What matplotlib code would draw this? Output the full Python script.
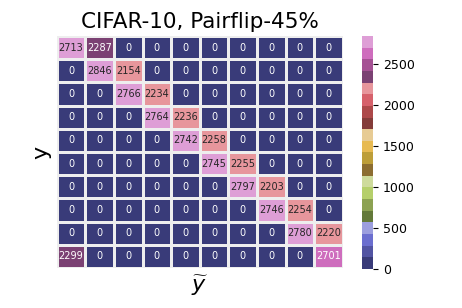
import matplotlib
matplotlib.use("Agg")
import matplotlib.pyplot as plt
import seaborn as sns
import numpy as np

# confusion counts: rows = true label y, cols = noisy label y~
diag_vals = [2713, 2846, 2766, 2764, 2742, 2745, 2797, 2746, 2780, 2701]
flip_vals = [2287, 2154, 2234, 2236, 2258, 2255, 2203, 2254, 2220, 2299]

n = len(diag_vals)
cm = np.zeros((n, n), dtype=int)
for i in range(n):
    cm[i, i] = diag_vals[i]
    cm[i, (i + 1) % n] = flip_vals[i]

fig = plt.figure(figsize=(4.62, 3.08), dpi=100)
ax = fig.add_axes([0.123, 0.130, 0.619, 0.753])
cax = fig.add_axes([0.784, 0.127, 0.024, 0.756])

sns.heatmap(cm, ax=ax, cbar_ax=cax, cmap="tab20b", annot=True, fmt="d",
            annot_kws={"fontsize": 7}, linewidths=0.8, linecolor="#eeeeee",
            xticklabels=False, yticklabels=False)
cax.tick_params(labelsize=9)
ax.set_title("CIFAR-10, Pairflip-45%", fontsize=15.5)
ax.set_xlabel(r"$\widetilde{y}$", fontsize=16)
ax.set_ylabel("y", fontsize=16)

fig.savefig("out.png", dpi=100)
